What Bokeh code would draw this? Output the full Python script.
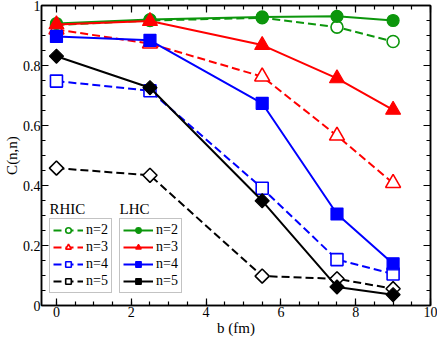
from bokeh.plotting import figure
from bokeh.models import (Range1d, LinearAxis, SingleIntervalTicker, Legend, LegendItem,
                          Label, CustomJSTickFormatter)
from bokeh.embed import file_html
from bokeh.resources import INLINE
import math

b = [0, 2.5, 5.5, 7.5, 9]
rhic_n2 = [0.935, 0.950, 0.959, 0.928, 0.880]
rhic_n3 = [0.920, 0.873, 0.763, 0.566, 0.408]
rhic_n4 = [0.748, 0.716, 0.391, 0.153, 0.105]
rhic_n5 = [0.458, 0.434, 0.098, 0.089, 0.056]
lhc_n2 = [0.940, 0.953, 0.962, 0.964, 0.950]
lhc_n3 = [0.937, 0.948, 0.868, 0.757, 0.652]
lhc_n4 = [0.897, 0.884, 0.674, 0.305, 0.139]
lhc_n5 = [0.831, 0.726, 0.349, 0.062, 0.036]
labels = ["n=2", "n=3", "n=4", "n=5"]
colors = ["#0c960c", "#ff0000", "#0000ff", "#000000"]
FONT = "Liberation Serif, serif"

p = figure(width=437, height=338, output_backend="svg", toolbar_location=None,
           x_range=Range1d(-0.4, 10), y_range=Range1d(0, 1),
           x_axis_label="b (fm)", y_axis_label="C(n,n)")
p.min_border_left = 0
p.min_border_right = 7
p.min_border_top = 5
p.min_border_bottom = 0
p.xgrid.visible = False
p.ygrid.visible = False
p.outline_line_color = "black"
p.outline_line_width = 1.5
p.background_fill_color = "white"
p.border_fill_color = "white"

fmt = CustomJSTickFormatter(code="return tick.toFixed(1).replace(/\\.0$/, '');")
p.xaxis.ticker = SingleIntervalTicker(interval=2, num_minor_ticks=4)
p.yaxis.ticker = SingleIntervalTicker(interval=0.2, num_minor_ticks=4)
p.yaxis.formatter = fmt

def style_axis(ax):
    ax.axis_line_color = "black"
    ax.axis_line_width = 1.5
    ax.major_tick_in = 7
    ax.major_tick_out = 0
    ax.minor_tick_in = 4
    ax.minor_tick_out = 0
    ax.major_tick_line_width = 1.2
    ax.minor_tick_line_width = 1.2
    ax.major_label_text_font = FONT
    ax.major_label_text_font_size = "14px"
    ax.major_label_text_color = "black"
    ax.axis_label_text_font = FONT
    ax.axis_label_text_font_size = "15px"
    ax.axis_label_text_font_style = "normal"
    ax.axis_label_text_color = "black"
    ax.major_label_standoff = 1
    ax.axis_label_standoff = 0

for ax in p.xaxis + p.yaxis:
    style_axis(ax)

blank = CustomJSTickFormatter(code="return '';")
top = LinearAxis(ticker=SingleIntervalTicker(interval=2, num_minor_ticks=4), formatter=blank)
right = LinearAxis(ticker=SingleIntervalTicker(interval=0.2, num_minor_ticks=4), formatter=blank)
for ax in (top, right):
    style_axis(ax)
    ax.major_label_text_font_size = "1px"
    ax.major_label_standoff = 0
    ax.axis_label_standoff = 0
p.add_layout(top, "above")
p.add_layout(right, "right")

rhic = [rhic_n2, rhic_n3, rhic_n4, rhic_n5]
lhc = [lhc_n2, lhc_n3, lhc_n4, lhc_n5]
markers = ["circle", "triangle", "square", "square"]
sizes = [12, 15, 12, 10]
angles = [0, 0, 0, math.pi / 4]

rhic_items, lhc_items = [], []
for i in range(4):
    c = colors[i]
    l1 = p.line(b, rhic[i], line_color=c, line_width=2, line_dash="8 4")
    s1 = p.scatter(b, rhic[i], marker=markers[i], size=sizes[i], angle=angles[i],
                   fill_color="white", line_color=c, line_width=1.6)
    rhic_items.append(LegendItem(label=labels[i], renderers=[l1, s1]))
for i in range(4):
    c = colors[i]
    l2 = p.line(b, lhc[i], line_color=c, line_width=2)
    s2 = p.scatter(b, lhc[i], marker=markers[i], size=sizes[i], angle=angles[i],
                   fill_color=c, line_color=c, line_width=1.2)
    lhc_items.append(LegendItem(label=labels[i], renderers=[l2, s2]))

def make_legend(items, loc):
    lg = Legend(items=items, location=loc, orientation="vertical")
    lg.border_line_color = "#888888"
    lg.border_line_width = 1.5
    lg.background_fill_color = "white"
    lg.background_fill_alpha = 1
    lg.label_text_font = FONT
    lg.label_text_font_size = "14px"
    lg.label_text_color = "black"
    lg.glyph_width = 30
    lg.glyph_height = 14
    lg.label_height = 14
    lg.label_standoff = 3
    lg.spacing = 1
    lg.padding = 3
    lg.margin = 0
    return lg

p.add_layout(make_legend(rhic_items, (8, 12)))
p.add_layout(make_legend(lhc_items, (78, 12)))

for txt, x in [("RHIC", 8), ("LHC", 78)]:
    p.add_layout(Label(x=x, y=89, x_units="screen", y_units="screen", text=txt,
                       text_font=FONT, text_font_size="15px", text_color="black"))

open("out.html", "w").write(file_html(p, INLINE))
